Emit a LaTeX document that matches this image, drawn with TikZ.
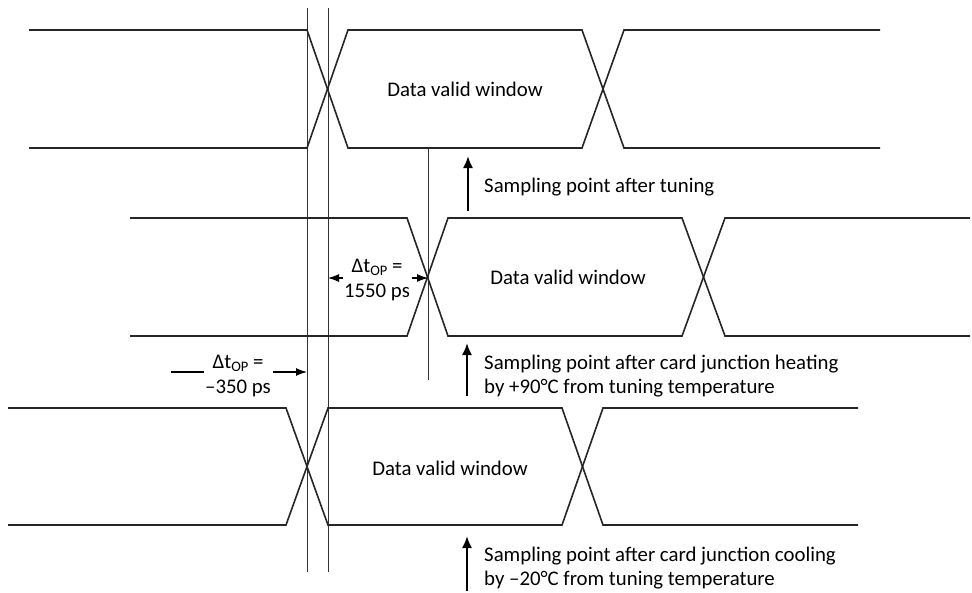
\documentclass[tikz,border=0pt]{standalone}
\usepackage{fontspec}
\setmainfont{Carlito}
\usetikzlibrary{arrows.meta}
\newcommand{\opsub}{\raisebox{-0.25ex}{\fontsize{14.5}{14.5}\selectfont OP}}
\begin{document}
\begin{tikzpicture}[x=1pt,y=-1pt,
  wave/.style={line width=1.6pt, draw=black!85},
  vline/.style={line width=1pt, draw=black!80},
  lbl/.style={font=\fontsize{20.8}{24.5}\selectfont, inner sep=0pt},
  samp/.style={line width=2pt, -{Latex[length=12pt,width=10pt]}},
  dim/.style={line width=1.1pt, -{Latex[length=11pt,width=8pt]}},
  dimplain/.style={line width=1.1pt}]
\useasboundingbox (0,0) rectangle (972,592);

% vertical reference lines
\coordinate (v1t) at (307,8);   \coordinate (v1b) at (307,572);
\coordinate (v2t) at (328,8);   \coordinate (v2b) at (328,572);
\coordinate (v3t) at (428,148); \coordinate (v3b) at (428,380);
\draw[vline] (v1t) -- (v1b);
\draw[vline] (v2t) -- (v2b);
\draw[vline] (v3t) -- (v3b);

% row 1
\draw[wave] (29,30) -- (307,30) -- (348,148) -- (582,148) -- (624,30) -- (880,30);
\draw[wave] (29,148) -- (307,148) -- (348,30) -- (582,30) -- (624,148) -- (880,148);
% row 2
\draw[wave] (130,218) -- (407,218) -- (448,336) -- (682,336) -- (725,218) -- (970,218);
\draw[wave] (130,336) -- (407,336) -- (448,218) -- (682,218) -- (725,336) -- (970,336);
% row 3
\draw[wave] (8,408) -- (286,408) -- (328,525) -- (562,525) -- (603,408) -- (858,408);
\draw[wave] (8,525) -- (286,525) -- (328,408) -- (562,408) -- (603,525) -- (858,525);

% window labels
\node[lbl] (dv1) at (465,89) {Data valid window};
\node[lbl] (dv2) at (568,277) {Data valid window};
\node[lbl] (dv3) at (450,468) {Data valid window};

% sampling arrows
\coordinate (a1b) at (468,211); \coordinate (a1t) at (468,156);
\coordinate (a2b) at (467,396); \coordinate (a2t) at (467,343);
\coordinate (a3b) at (467,591); \coordinate (a3t) at (467,536);
\draw[samp] (a1b) -- (a1t);
\draw[samp] (a2b) -- (a2t);
\draw[samp] (a3b) -- (a3t);

\node[lbl, anchor=west, align=left] (s1) at (484,187) {Sampling point after tuning};
\node[lbl, anchor=west, align=left] (s2) at (484,376) {Sampling point after card junction heating\\by +90°C from tuning temperature};
\node[lbl, anchor=west, align=left] (s3) at (484,568) {Sampling point after card junction cooling\\by –20°C from tuning temperature};

% dimension row 2
\node[lbl, align=center] (d2) at (377,280) {Δt\opsub{} =\\1550 ps};
\coordinate (d2l) at (328,278); \coordinate (d2r) at (428,278);
\draw[dim] ([xshift=-1pt]d2.west |- d2l) -- (d2l);
\draw[dim] ([xshift=2pt]d2.east |- d2r) -- (d2r);

% dimension row 3
\node[lbl, align=center] (d3) at (238,376) {Δt\opsub{} =\\–350 ps};
\coordinate (d3l) at (171,372); \coordinate (d3r) at (307,372);
\draw[dimplain] (d3l) -- ([xshift=-1pt]d3.west |- d3l);
\draw[dim] ([xshift=2pt]d3.east |- d3r) -- (d3r);
\end{tikzpicture}
\end{document}
